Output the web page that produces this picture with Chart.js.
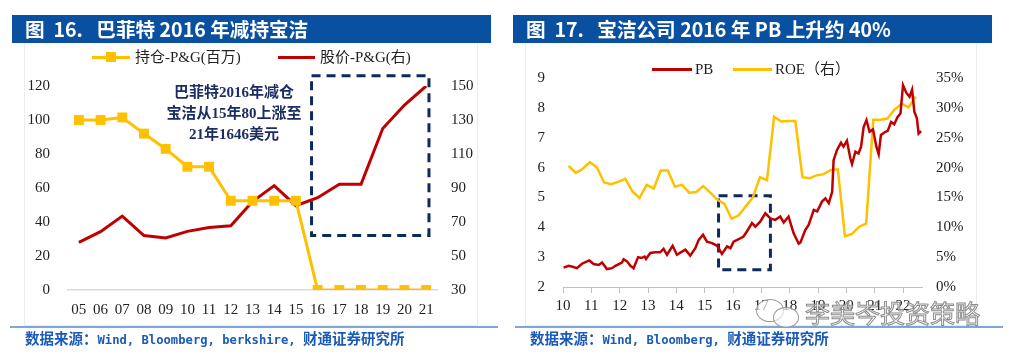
<!DOCTYPE html>
<html><head><meta charset="utf-8">
<script src="https://cdn.jsdelivr.net/npm/chart.js@4/dist/chart.umd.min.js"></script>
<style>
html,body{margin:0;padding:0;background:#fff;}
body{width:1011px;height:357px;position:relative;overflow:hidden;}
.tbar{position:absolute;top:15px;height:28px;background:#0A50A1;color:#fff;font-family:"Noto Sans CJK SC",sans-serif;font-weight:700;font-size:19.6px;line-height:28px;white-space:pre;box-sizing:border-box;padding-left:13px;}
.frame{position:absolute;top:43px;height:283px;border:1px solid #ececec;border-top:none;box-sizing:border-box;}
.bline{position:absolute;top:326px;height:2px;background:#7ea6d6;}
.src{position:absolute;top:329px;color:#1a5ab8;font-weight:700;white-space:pre;line-height:18px;}
.src .c{font-family:"Noto Sans CJK SC";font-size:14.5px;}
.src .l{font-family:"DejaVu Sans Mono";font-size:12.2px;}
.leg{position:absolute;font-family:"Liberation Serif","Noto Sans CJK SC",serif;font-size:15px;color:#222;white-space:pre;line-height:16px;}
.sw{position:absolute;height:3px;}
.mk{position:absolute;width:10px;height:10px;background:#FFC000;}
.note{position:absolute;font-family:"Liberation Serif","Noto Sans CJK SC",serif;font-weight:700;font-size:15px;color:#1b2d63;text-align:center;line-height:21px;white-space:pre;}
.wm{position:absolute;font-family:"Noto Sans CJK SC";font-size:25px;color:rgba(255,255,255,0.5);-webkit-text-stroke:1px #8c8c8c;white-space:pre;}
.ic{position:absolute;border:1.5px solid #9a9a9a;border-radius:50%;background:rgba(255,255,255,0.6);}
</style></head>
<body>
<canvas id="c1" width="500" height="330" style="position:absolute;left:0;top:0"></canvas>
<canvas id="c2" width="511" height="330" style="position:absolute;left:500px;top:0"></canvas>

<div class="frame" style="left:24px;width:454px"></div>
<div class="frame" style="left:525px;width:452px"></div>
<div class="tbar" style="left:12px;width:479px">图  16.   巴菲特 2016 年减持宝洁</div>
<div class="tbar" style="left:513px;width:479px">图  17.   宝洁公司 2016 年 PB 上升约 40%</div>

<div class="sw" style="left:92px;top:56px;width:38px;background:#FFC000"></div>
<div class="mk" style="left:106px;top:52px"></div>
<div class="leg" style="left:135px;top:49px">持仓-P&amp;G(百万)</div>
<div class="sw" style="left:278px;top:56px;width:37px;background:#C00000"></div>
<div class="leg" style="left:320px;top:49px">股价-P&amp;G(右)</div>

<div class="sw" style="left:652px;top:68px;width:40px;background:#C00000"></div>
<div class="leg" style="left:695px;top:61px">PB</div>
<div class="sw" style="left:733px;top:68px;width:39px;background:#FFC000"></div>
<div class="leg" style="left:775px;top:61px">ROE（右）</div>

<div class="note" style="left:134px;top:82px;width:200px">巴菲特2016年减仓
宝洁从15年80上涨至
21年1646美元</div>

<div class="bline" style="left:10px;width:488px"></div>
<div class="bline" style="left:515px;width:488px"></div>
<div class="src" style="left:25px"><span class="c">数据来源：</span><span class="l">Wind, Bloomberg, berkshire, </span><span class="c">财通证券研究所</span></div>
<div class="src" style="left:530px"><span class="c">数据来源：</span><span class="l">Wind, Bloomberg, </span><span class="c">财通证券研究所</span></div>

<div class="ic" style="left:756px;top:299px;width:26px;height:21px"></div>
<div class="ic" style="left:773px;top:307px;width:24px;height:19px"></div>
<div class="wm" style="left:805px;top:294px">李美岑投资策略</div>

<script>
// ---------- Figure 16 data ----------
const years16 = ['05','06','07','08','09','10','11','12','13','14','15','16','17','18','19','20','21'];
const holdings = [100,100,101.5,92,83,72.5,72.5,52.5,52.5,52.5,52.5,0,0,0,0,0,0];
const price = [58,64.3,73.5,62,60.6,64.5,66.7,67.8,82,91.4,79.6,84.3,92.2,92.2,125,138.8,150];
const leftTicks16 = [0,20,40,60,80,100,120];
const rightTicks16 = [30,50,70,90,110,130,150];
const box16 = {x0:10.72, x1:16.13, y0:32, y1:126}; // category index / left-axis units

// ---------- Figure 17 data ----------
const years17 = [10,11,12,13,14,15,16,17,18,19,20,21,22];
const pbX = [10.02,10.20,10.37,10.49,10.67,10.85,10.93,11.08,11.26,11.38,11.55,11.73,11.85,12.08,12.14,12.26,12.38,12.49,12.65,12.76,12.88,12.93,13.08,13.26,13.43,13.55,13.67,13.87,14.02,14.14,14.32,14.49,14.67,14.79,14.94,15.08,15.26,15.44,15.61,15.79,15.91,16.02,16.20,16.37,16.49,16.67,16.79,16.96,17.14,17.32,17.49,17.67,17.79,17.96,18.14,18.32,18.38,18.55,18.67,18.85,18.97,19.14,19.26,19.38,19.50,19.55,19.67,19.81,19.90,20.02,20.14,20.20,20.32,20.43,20.52,20.61,20.71,20.82,20.94,21.06,21.14,21.22,21.38,21.46,21.58,21.69,21.81,21.91,22.00,22.12,22.23,22.32,22.40,22.49,22.55,22.64];
const pbY = [2.65,2.71,2.67,2.63,2.78,2.86,2.89,2.77,2.74,2.82,2.60,2.63,2.71,2.82,2.93,2.86,2.71,2.63,3.00,2.97,3.02,2.94,3.14,3.16,3.16,3.28,3.08,3.38,3.08,3.15,3.25,3.05,3.30,3.58,3.75,3.52,3.47,3.38,3.11,3.36,3.30,3.52,3.60,3.69,3.86,4.14,4.02,4.19,4.47,4.30,4.25,4.36,4.16,4.36,3.80,3.45,3.49,3.91,4.08,4.58,4.53,4.86,4.97,4.81,5.19,6.25,6.59,6.83,6.70,6.90,6.31,6.12,6.53,6.47,6.70,7.36,7.59,7.20,7.28,6.70,6.45,7.09,7.20,7.23,7.53,7.45,7.70,7.81,8.76,8.50,8.37,8.61,7.87,7.65,7.14,7.22];
const roeX = [10.2,10.45,10.7,10.95,11.2,11.45,11.7,11.95,12.2,12.45,12.7,12.95,13.2,13.45,13.7,13.95,14.2,14.45,14.7,14.95,15.2,15.45,15.7,15.95,16.2,16.45,16.7,16.95,17.2,17.45,17.7,17.95,18.2,18.45,18.7,18.95,19.2,19.45,19.7,19.95,20.2,20.45,20.7,20.95,21.2,21.45,21.7,21.95,22.2,22.45];
const roeY = [20.3,19.1,19.8,20.9,20.0,17.5,17.2,17.6,18.1,16.0,14.9,17.1,16.5,19.5,19.5,16.8,17.1,15.8,15.9,16.9,15.8,14.6,13.9,11.4,12.0,13.5,15.0,18.4,17.9,28.5,27.7,27.8,27.8,18.4,18.2,18.7,18.9,19.6,19.7,8.5,8.9,10.1,10.6,28.0,28.0,28.2,29.7,30.7,30.1,31.9];
const leftTicks17 = [2,3,4,5,6,7,8,9];
const rightTicks17 = [0,5,10,15,20,25,30,35];
const box17 = {x0:15.49, x1:17.32, y0:2.58, y1:5.06};

const tickFont = {family:'"Liberation Serif","Times New Roman",serif', size:15};
const tickColor = '#222';

function boxPlugin(box, yId){
  return {id:'dbox', beforeDatasetsDraw(chart){
    const xs = chart.scales.x, ys = chart.scales[yId], ctx = chart.ctx;
    const x0 = xs.getPixelForValue(box.x0), x1 = xs.getPixelForValue(box.x1);
    const y0 = ys.getPixelForValue(box.y0), y1 = ys.getPixelForValue(box.y1);
    ctx.save(); ctx.strokeStyle = '#0d2a5c'; ctx.lineWidth = 3; ctx.setLineDash([9,6]);
    ctx.strokeRect(Math.min(x0,x1), Math.min(y0,y1), Math.abs(x1-x0), Math.abs(y1-y0));
    ctx.restore();
  }};
}
function fixTicks(arr){ return function(scale){ scale.ticks = arr.map(v=>({value:v})); }; }

new Chart(document.getElementById('c1'), {
  type:'line',
  data:{labels:years16, datasets:[
    {label:'持仓-P&G(百万)', data:holdings, yAxisID:'y', borderColor:'#FFC000', backgroundColor:'#FFC000', borderWidth:3, pointStyle:'rect', pointRadius:7, pointBorderWidth:0, tension:0},
    {label:'股价-P&G(右)', data:price, yAxisID:'y1', borderColor:'#C00000', borderWidth:3, pointRadius:0, tension:0}
  ]},
  options:{responsive:false, animation:false, devicePixelRatio:1,
    layout:{padding:{top:86,left:0,right:0,bottom:0}, autoPadding:false},
    plugins:{legend:{display:false}, tooltip:{enabled:false}},
    scales:{
      x:{type:'category', offset:true, grid:{display:false, drawTicks:false}, border:{display:true, color:'#d9d9d9', width:1.5},
         ticks:{font:tickFont, color:tickColor, padding:11, maxRotation:0, autoSkip:false},
         afterFit(s){ s.height = 40; }},
      y:{position:'left', min:0, max:120, grid:{display:false, drawTicks:false}, border:{display:false},
         ticks:{font:tickFont, color:tickColor, padding:18}, afterBuildTicks:fixTicks(leftTicks16), afterFit(s){ s.width = 68; }},
      y1:{position:'right', min:30, max:150, grid:{display:false, drawTicks:false}, border:{display:false},
         ticks:{font:tickFont, color:tickColor, padding:14}, afterBuildTicks:fixTicks(rightTicks16), afterFit(s){ s.width = 63; }}
    }
  },
  plugins:[boxPlugin(box16,'y')]
});

new Chart(document.getElementById('c2'), {
  type:'line',
  data:{datasets:[
    {label:'PB', data:pbX.map((x,i)=>({x:x, y:pbY[i]})), yAxisID:'y', borderColor:'#C00000', borderWidth:2.5, pointRadius:0, tension:0},
    {label:'ROE（右）', data:roeX.map((x,i)=>({x:x, y:roeY[i]})), yAxisID:'y1', borderColor:'#FFC000', borderWidth:2.5, pointRadius:0, tension:0}
  ]},
  options:{responsive:false, animation:false, devicePixelRatio:1,
    layout:{padding:{top:78,left:0,right:0,bottom:0}, autoPadding:false},
    plugins:{legend:{display:false}, tooltip:{enabled:false}},
    scales:{
      x:{type:'linear', min:10, max:22.67, grid:{display:true, drawOnChartArea:false, drawTicks:true, tickLength:6, color:'#bfbfbf', lineWidth:1},
         border:{display:true, color:'#bfbfbf', width:1},
         ticks:{font:tickFont, color:tickColor, padding:4, maxRotation:0, autoSkip:false, callback:v=>String(v)},
         afterBuildTicks:fixTicks(years17), afterFit(s){ s.height = 43; }},
      y:{position:'left', min:2, max:9, grid:{display:false, drawTicks:false}, border:{display:false},
         ticks:{font:tickFont, color:tickColor, padding:18}, afterBuildTicks:fixTicks(leftTicks17), afterFit(s){ s.width = 63; }},
      y1:{position:'right', min:0, max:35, grid:{display:false, drawTicks:false}, border:{display:false},
         ticks:{font:tickFont, color:tickColor, padding:14, callback:v=>v+'%'}, afterBuildTicks:fixTicks(rightTicks17), afterFit(s){ s.width = 89; }}
    }
  },
  plugins:[boxPlugin(box17,'y')]
});
</script>
</body></html>
